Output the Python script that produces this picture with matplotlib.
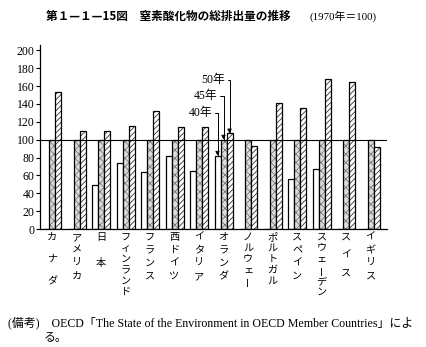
import numpy as np
import matplotlib
matplotlib.use('Agg')
from matplotlib import pyplot as plt
import matplotlib.transforms as mtransforms

plt.rcParams['font.family'] = ['Liberation Serif', 'Noto Sans CJK JP']
plt.rcParams['hatch.linewidth'] = 0.6

#%% data (1970 = 100)
countries = ['カナダ', 'アメリカ', '日本', 'フィンランド', 'フランス', '西ドイツ', 'イタリア',
             'オランダ', 'ノルウェー', 'ポルトガル', 'スペイン', 'スウェーデン', 'スイス', 'イギリス']
# 40年 (1965); nan = no data
y40 = [np.nan, np.nan, 49, 74, 64, 82, 65, 82, np.nan, np.nan, 56, 67, np.nan, np.nan]
y45 = [100] * 14
y50 = [153, 110, 110, 115, 132, 114, 114, 107, 93, 141, 136, 168, 165, 92]
yticks = list(range(0, 201, 20))
# vertical spacing of characters in each label (pixels)
label_gap = [22, 13, 26, 11, 13, 13, 13, 13, 11, 11, 13, 11, 18, 13]

#%% plot
fig = plt.figure(figsize=(4.26, 3.47), dpi=100)
ax = fig.add_axes([40/426, 1-229/347, 347/426, 184/347])
x = np.arange(len(countries))
w = 0.245

ax.bar(x - w, np.nan_to_num(y40), w, color='white', edgecolor='black', lw=0.9)
# 45年: grey stippled
ax.bar(x, y45, w, color='#dcdcdc', edgecolor='#7a7a7a', hatch='xxxx', lw=0)
ax.bar(x, y45, w, color='none', edgecolor='black', lw=0.9)
# 50年: diagonal hatch
ax.bar(x + w, y50, w, color='white', edgecolor='#333333', hatch='//////', lw=0)
ax.bar(x + w, y50, w, color='none', edgecolor='black', lw=0.9)

ax.axhline(100, color='black', lw=0.8)
ax.set_xlim(-0.49, 13.67)
ax.set_ylim(0, 206)
ax.set_yticks(yticks)
ax.set_xticks([])
ax.tick_params(axis='y', direction='out', length=3, width=0.8, labelsize=8.5, pad=1)
for s in ['top', 'right']:
    ax.spines[s].set_visible(False)
ax.spines['left'].set_linewidth(0.9)
ax.spines['bottom'].set_linewidth(0.9)

# vertical Japanese labels
trans = mtransforms.blended_transform_factory(ax.transData, ax.transAxes)
for i, name in enumerate(countries):
    chars = list(name)
    for k, ch in enumerate(chars):
        off = -(8 + k * label_gap[i]) * 72 / 100
        rot = 90 if ch == 'ー' else 0
        ax.annotate(ch, xy=(i, 0), xycoords=trans, xytext=(0, off),
                    textcoords='offset points', ha='center', va='center',
                    fontsize=7.3, family='Noto Sans CJK JP', rotation=rot)

# legend arrows
ann = [('40年', x[7] - w, y40[7], 6.55, 130),
       ('45年', x[7], y45[7], 6.75, 149),
       ('50年', x[7] + w, y50[7], 7.05, 167)]
for lab, bx, by, tx, ty in ann:
    ax.annotate(lab, xy=(bx, by), xytext=(tx, ty), ha='right', va='center',
                fontsize=8.5,
                arrowprops=dict(arrowstyle='-|>', lw=0.7, color='black',
                                mutation_scale=6,
                                connectionstyle='angle,angleA=0,angleB=90,rad=0',
                                shrinkA=0, shrinkB=0))

fig.text(46/426, 1-16/347, '第１—１—15図　窒素酸化物の総排出量の推移',
         fontsize=8.4, family='Noto Sans CJK JP', weight='bold', va='center')
fig.text(309/426, 1-16/347, '(1970年＝100)', fontsize=7.8, va='center')
fig.text(8/426, 1-323/347,
         '(備考)　OECD「The State of the Environment in OECD Member Countries」によ',
         fontsize=8.6, va='center')
fig.text(44/426, 1-338/347, 'る。', fontsize=8.6, va='center')

fig.savefig('out.png', dpi=100)
